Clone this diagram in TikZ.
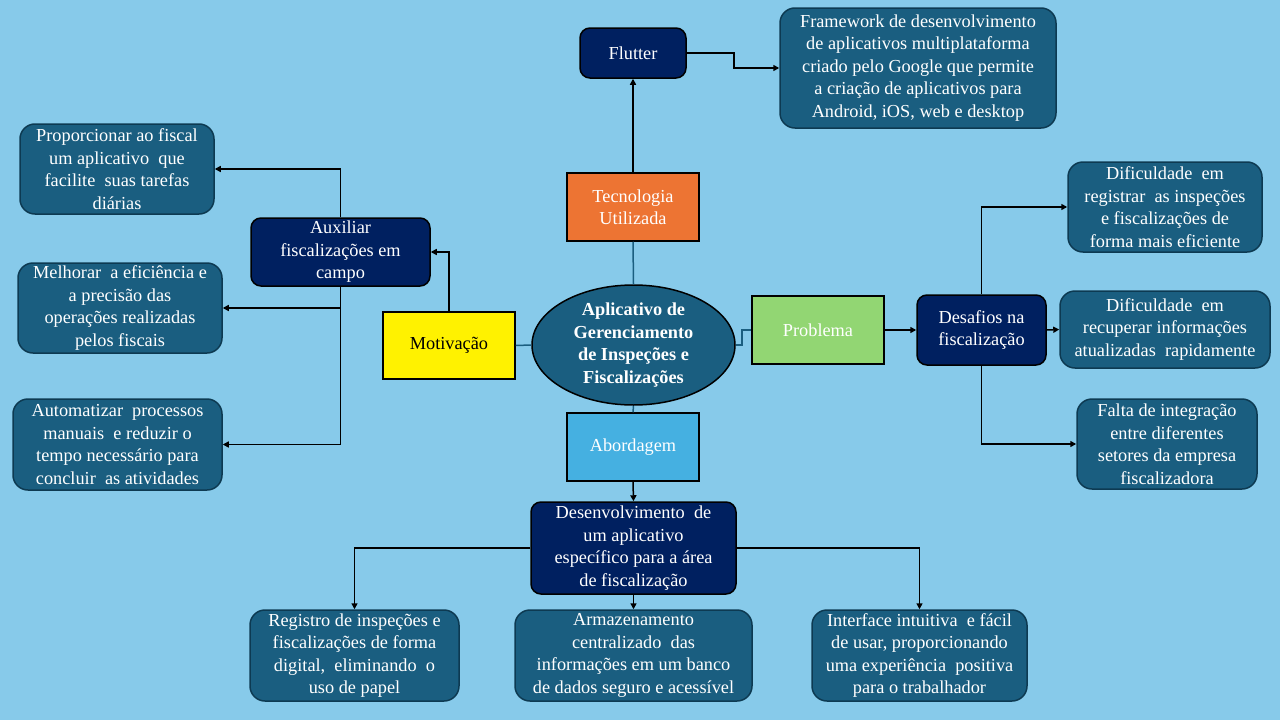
\documentclass[tikz,border=0pt]{standalone}
\usepackage{fontspec}
\setmainfont{Liberation Serif}
\usetikzlibrary{arrows.meta,shapes.geometric}

\definecolor{skyback}{HTML}{87CAEA}
\definecolor{tealbox}{HTML}{1A5E80}
\definecolor{tealedge}{HTML}{0D3A52}
\definecolor{navybox}{HTML}{002060}
\definecolor{orangebox}{HTML}{ED7433}
\definecolor{greenbox}{HTML}{92D673}
\definecolor{bluebox}{HTML}{45B0E1}

\tikzset{
  base/.style={line width=1.5pt, text=white, align=center, inner sep=0pt,
    font=\fontsize{18.3}{22.5}\selectfont},
  navy/.style={base, draw=black, fill=navybox, rounded corners=10pt},
  info/.style={base, draw=tealedge, fill=tealbox, rounded corners=15pt},
  topic/.style={base, draw=black, fill=#1},
  link/.style={line width=1.5pt, -{Triangle[length=6pt,width=6pt]}},
  hub/.style={draw=tealbox, line width=1.5pt}
}

\begin{document}
\begin{tikzpicture}[x=1pt, y=-1pt]
  \fill [skyback] (0,0) rectangle (1280,720);
  \useasboundingbox (0,0) rectangle (1280,720);

  % centre
  \node [base, draw=black, fill=tealbox, ellipse, inner sep=-4pt, minimum width=203, minimum height=120,
    font=\fontsize{18.3}{22.5}\selectfont\bfseries] (app) at (633.5,345)
    {Aplicativo de\\Gerenciamento\\de Inspeções e\\Fiscalizações};

  % tecnologia
  \node [topic=orangebox, minimum width=132, minimum height=68] (tec) at (633,207) {Tecnologia\\Utilizada};
  \node [navy, minimum width=106, minimum height=50] (flutter) at (633,53) {Flutter};
  \node [info, minimum width=276, minimum height=120] (framework) at (918,68)
    {Framework de desenvolvimento\\de aplicativos multiplataforma\\criado pelo Google que permite\\a criação de aplicativos para\\Android, iOS, web e desktop};

  % motivacao
  \node [topic=yellow, text=black, minimum width=132, minimum height=67] (motiv) at (449,345.5) {Motivação};
  \node [navy, minimum width=179, minimum height=68] (aux) at (340.5,252) {Auxiliar\\fiscalizações em\\campo};
  \node [info, minimum width=194, minimum height=90] (mot1) at (117,169)
    {Proporcionar ao fiscal\\um aplicativo \ que\\facilite \ suas tarefas\\diárias};
  \node [info, minimum width=204, minimum height=90] (mot2) at (120,308)
    {Melhorar \ a eficiência e\\a precisão das\\operações realizadas\\pelos fiscais};
  \node [info, minimum width=209, minimum height=91] (mot3) at (117.5,444.5)
    {Automatizar \ processos\\manuais \ e reduzir o\\tempo necessário para\\concluir \ as atividades};

  % problema
  \node [topic=greenbox, minimum width=132, minimum height=68] (prob) at (818,330) {Problema};
  \node [navy, minimum width=129, minimum height=70] (desaf) at (981.5,330) {Desafios na\\fiscalização};
  \node [info, minimum width=194, minimum height=90] (prob1) at (1165,207)
    {Dificuldade \ em\\registrar \ as inspeções\\e fiscalizações de\\forma mais eficiente};
  \node [info, minimum width=210, minimum height=77] (prob2) at (1165,329.5)
    {Dificuldade \ em\\recuperar informações\\atualizadas \ rapidamente};
  \node [info, minimum width=180, minimum height=90] (prob3) at (1167,444)
    {Falta de integração\\entre diferentes\\setores da empresa\\fiscalizadora};

  % abordagem
  \node [topic=bluebox, minimum width=132, minimum height=68] (abord) at (633,447) {Abordagem};
  \node [navy, minimum width=205, minimum height=92] (desenv) at (633.5,548)
    {Desenvolvimento \ de\\um aplicativo\\específico para a área\\de fiscalização};
  \node [info, minimum width=209, minimum height=91] (abo1) at (354.5,655.5)
    {Registro de inspeções e\\fiscalizações de forma\\digital, \ eliminando \ o\\uso de papel};
  \node [info, minimum width=237, minimum height=91] (abo2) at (633.5,655.5)
    {Armazenamento\\centralizado \ das\\informações em um banco\\de dados seguro e acessível};
  \node [info, minimum width=215, minimum height=91] (abo3) at (919.5,655.5)
    {Interface intuitiva \ e fácil\\de usar, proporcionando\\uma experiência \ positiva\\para o trabalhador};

  % ligacoes
  \draw [hub] (tec.south) -- (app.north);
  \draw [hub] (app.west) -- (motiv.east);
  \draw [hub] (app.east) -- ++(6,0) |- (prob.west);
  \draw [hub] (app.south) -- (abord.north);

  \draw [link] (tec.north) -- (flutter.south);
  \draw [link] (flutter.east) -- ++(47,0) |- (framework.west);

  \draw [link] (motiv.north) |- (aux.east);
  \draw [link] (aux.north) |- (mot1.east);
  \draw [link] (aux.south) |- (mot2.east);
  \draw [link] (aux.south) |- (mot3.east);

  \draw [link] (prob.east) -- (desaf.west);
  \draw [link] (desaf.north) |- (prob1.west);
  \draw [link] (desaf.east) -- (prob2.west);
  \draw [link] (desaf.south) |- (prob3.west);

  \draw [link] (abord.south) -- (desenv.north);
  \draw [link] (desenv.west) -| (abo1.north);
  \draw [link] (desenv.south) -- (abo2.north);
  \draw [link] (desenv.east) -| (abo3.north);
\end{tikzpicture}
\end{document}
